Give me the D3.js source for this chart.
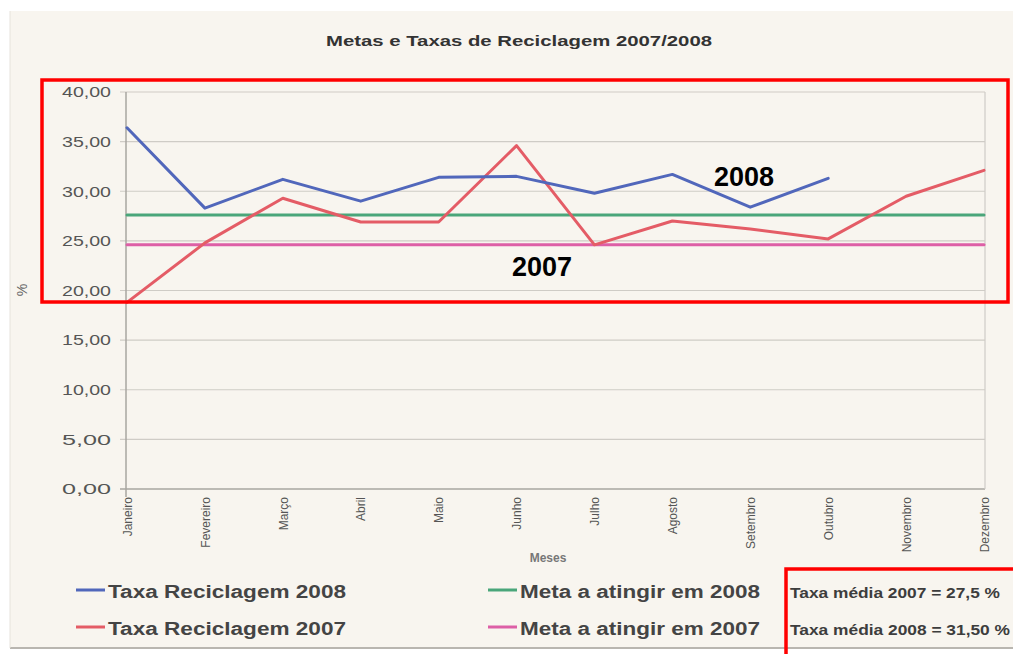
<!DOCTYPE html>
<html>
<head>
<meta charset="utf-8">
<script src="https://cdn.jsdelivr.net/npm/d3@7"></script>
<style>
  html, body { margin: 0; padding: 0; background: #fff; }
  svg { display: block; }
</style>
</head>
<body>
<svg id="chart" width="1013" height="654"></svg>
<script>
// ---- data ----
const months = ["Janeiro","Fevereiro","Março","Abril","Maio","Junho","Julho","Agosto","Setembro","Outubro","Novembro","Dezembro"];
const taxa2008 = [36.4, 28.3, 31.2, 29.0, 31.4, 31.5, 29.8, 31.7, 28.4, 31.3];
const taxa2007 = [18.8, 24.8, 29.3, 26.9, 26.9, 34.6, 24.6, 27.0, 26.2, 25.2, 29.5, 32.1];
const meta2008 = [27.6, 27.6, 27.6, 27.6, 27.6, 27.6, 27.6, 27.6, 27.6, 27.6, 27.6, 27.6];
const meta2007 = [24.6, 24.6, 24.6, 24.6, 24.6, 24.6, 24.6, 24.6, 24.6, 24.6, 24.6, 24.6];
const yTicks = [0, 5, 10, 15, 20, 25, 30, 35, 40];
const title = "Metas e Taxas de Reciclagem 2007/2008";
const legendItems = [
  {label: "Taxa Reciclagem 2008", key: "t08"},
  {label: "Taxa Reciclagem 2007", key: "t07"},
  {label: "Meta a atingir em 2008", key: "m08"},
  {label: "Meta a atingir em 2007", key: "m07"}
];
const notes = ["Taxa média 2007 = 27,5 %", "Taxa média 2008 = 31,50 %"];
const annotations = ["2008", "2007"];

// ---- styles / positions ----
const colors = {t08: "#5167bb", t07: "#e45c66", m08: "#4aa67a", m07: "#dd5fa6"};
const font = "'Liberation Sans', Arial, sans-serif";
const annotPos = {"2008": [714, 186], "2007": [512, 276]};

const svg = d3.select("#chart");
svg.append("rect").attr("width", 1013).attr("height", 654).attr("fill", "#ffffff");
svg.append("rect").attr("x", 10).attr("y", 11).attr("width", 1003).attr("height", 637).attr("fill", "#f8f5ef");
svg.append("line").attr("x1", 10).attr("x2", 1013).attr("y1", 648).attr("y2", 648).attr("stroke", "#b9b6b0").attr("stroke-width", 2);
svg.append("line").attr("x1", 10).attr("x2", 10).attr("y1", 11).attr("y2", 648).attr("stroke", "#e6e3dc").attr("stroke-width", 1);

const x = d3.scalePoint().domain(months).range([127, 984]);
const y = d3.scaleLinear().domain([0, 40]).range([489, 92]);

// title
svg.append("text").attr("x", 519).attr("y", 46).attr("text-anchor", "middle")
  .attr("font-family", font).attr("font-weight", "bold").attr("font-size", 15)
  .attr("fill", "#333").attr("textLength", 386).attr("lengthAdjust", "spacingAndGlyphs").text(title);

// grid
const g = svg.append("g");
g.selectAll("line.grid").data(yTicks).join("line").attr("class", "grid")
  .attr("x1", 120).attr("x2", 985).attr("y1", d => y(d)).attr("y2", d => y(d))
  .attr("stroke", d => d === 0 ? "#a9a6a0" : "#cfccc6").attr("stroke-width", d => d === 0 ? 1.5 : 1.2);
g.append("line").attr("x1", 985).attr("x2", 985).attr("y1", y(40)).attr("y2", y(0)).attr("stroke", "#cfccc6").attr("stroke-width", 1.2);

// y axis
const yAxis = d3.axisLeft(y).tickValues(yTicks).tickSize(0).tickPadding(15)
  .tickFormat(d => d3.format(".2f")(d).replace(".", ","));
const ya = svg.append("g").attr("transform", "translate(126,0)").call(yAxis);
ya.select(".domain").attr("stroke", "#a9a6a0").attr("stroke-width", 1.5).attr("d", `M0,${y(40)}V${y(0) + 8}`);
ya.selectAll("text").attr("font-family", font).attr("font-size", 15).attr("fill", "#555")
  .attr("textLength", 49).attr("lengthAdjust", "spacingAndGlyphs");

// x axis
const xAxis = d3.axisBottom(x).tickSize(0).tickPadding(0);
const xa = svg.append("g").attr("transform", `translate(0,${y(0)})`).call(xAxis);
xa.select(".domain").remove();
xa.selectAll("text").attr("font-family", font).attr("font-size", 12).attr("fill", "#555")
  .attr("text-anchor", "end").attr("transform", "translate(0,8) rotate(-90)")
  .attr("x", 0).attr("y", 0).attr("dy", "0.35em");

// axis titles
svg.append("text").attr("x", 548).attr("y", 562).attr("text-anchor", "middle").attr("font-family", font)
  .attr("font-weight", "bold").attr("font-size", 12).attr("fill", "#777").text("Meses");
svg.append("text").attr("transform", "translate(27,290) rotate(-90)").attr("text-anchor", "middle")
  .attr("font-family", font).attr("font-size", 14).attr("fill", "#666").text("%");

// lines
const line = d3.line().x((d, i) => x(months[i])).y(d => y(d));
const series = [
  {key: "m08", values: meta2008},
  {key: "m07", values: meta2007},
  {key: "t07", values: taxa2007},
  {key: "t08", values: taxa2008}
];
svg.append("g").selectAll("path").data(series).join("path")
  .attr("d", d => line(d.values)).attr("fill", "none")
  .attr("stroke", d => colors[d.key]).attr("stroke-width", 3).attr("stroke-linejoin", "round").attr("stroke-linecap", "round");

// annotations
svg.append("g").selectAll("text").data(annotations).join("text")
  .attr("x", d => annotPos[d][0]).attr("y", d => annotPos[d][1])
  .attr("font-family", font).attr("font-weight", "bold").attr("font-size", 27).attr("fill", "#000")
  .text(d => d);

// legend
const legPos = {t08: [76, 590], t07: [76, 627], m08: [488, 590], m07: [488, 627]};
const lg = svg.append("g");
legendItems.forEach(it => {
  const [lx, ly] = legPos[it.key];
  lg.append("line").attr("x1", lx).attr("x2", lx + 29).attr("y1", ly).attr("y2", ly)
    .attr("stroke", colors[it.key]).attr("stroke-width", 3);
  lg.append("text").attr("x", lx + 32).attr("y", ly + 8).attr("font-family", font).attr("font-weight", "bold")
    .attr("font-size", 18).attr("fill", "#444")
    .attr("textLength", it.key[0] === "t" ? 238 : 240).attr("lengthAdjust", "spacingAndGlyphs").text(it.label);
});

// notes
svg.append("g").selectAll("text").data(notes).join("text")
  .attr("x", 790).attr("y", (d, i) => i === 0 ? 598 : 635)
  .attr("font-family", font).attr("font-weight", "bold").attr("font-size", 14).attr("fill", "#3d3d3d")
  .attr("textLength", (d, i) => i === 0 ? 210 : 220).attr("lengthAdjust", "spacingAndGlyphs").text(d => d);

// red highlight boxes
svg.append("rect").attr("x", 42).attr("y", 80).attr("width", 966).attr("height", 222)
  .attr("fill", "none").attr("stroke", "#ff0000").attr("stroke-width", 3.5);
svg.append("rect").attr("x", 786).attr("y", 569).attr("width", 260).attr("height", 120)
  .attr("fill", "none").attr("stroke", "#ff0000").attr("stroke-width", 3.5);
</script>
</body>
</html>
